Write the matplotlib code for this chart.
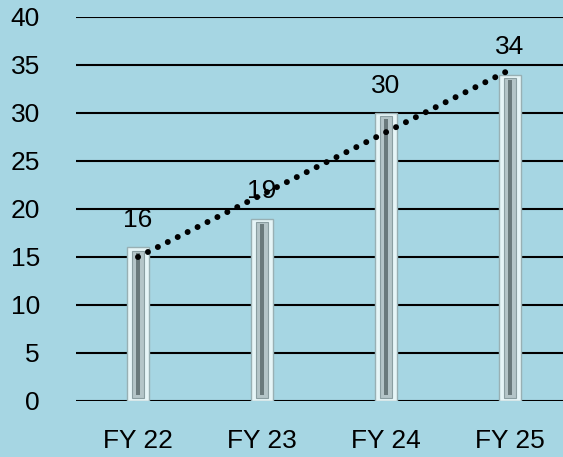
import matplotlib
matplotlib.use("Agg")
import matplotlib.pyplot as plt
import numpy as np

categories = ["FY 22", "FY 23", "FY 24", "FY 25"]
values = [16, 19, 30, 34]
y_ticks = [0, 5, 10, 15, 20, 25, 30, 35, 40]

BG = "#A6D6E3"
plt.rcParams["font.family"] = ["Liberation Sans", "DejaVu Sans"]

fig = plt.figure(figsize=(5.63, 4.57), dpi=100)
fig.patch.set_facecolor(BG)
# axes extends slightly past the right edge, like the source
ax = fig.add_axes([76 / 563, 56 / 457, 496 / 563, 384 / 457])
ax.set_facecolor(BG)

x = np.arange(len(categories))

# gridlines
for t in y_ticks:
    ax.axhline(t, color="black", lw=1.5, zorder=1)

# metallic bars: light frame, grey channel, dark centre line
ax.bar(x, values, width=0.17, color="#E6F5F7", edgecolor="#98B0B4", lw=1.0, zorder=2)
ax.bar(x, [v - 0.7 for v in values], bottom=0.35, width=0.10, color="#B4C5C8",
       edgecolor="#8A9EA1", lw=0.8, zorder=3)
ax.bar(x, [v - 1.2 for v in values], bottom=0.6, width=0.035, color="#6A7A7C",
       lw=0, zorder=4)

# value labels
for xi, v in zip(x, values):
    ax.text(xi, v + 1.6, str(v), ha="center", va="bottom", fontsize=19, zorder=6)

# linear trendline
coef = np.polyfit(x, values, 1)
ax.plot(x, np.polyval(coef, x), color="black", lw=4.3, ls=(0, (0.01, 1.85)),
        dash_capstyle="round", zorder=5)

ax.set_xlim(-0.5, 3.5)
ax.set_ylim(0, 40)
ax.set_yticks(y_ticks)
ax.set_xticks(x)
ax.set_xticklabels(categories)
ax.tick_params(length=0, labelsize=19, pad=20)
ax.tick_params(axis="y", pad=26)
for s in ax.spines.values():
    s.set_visible(False)

fig.savefig("out.png", dpi=100, facecolor=BG)
